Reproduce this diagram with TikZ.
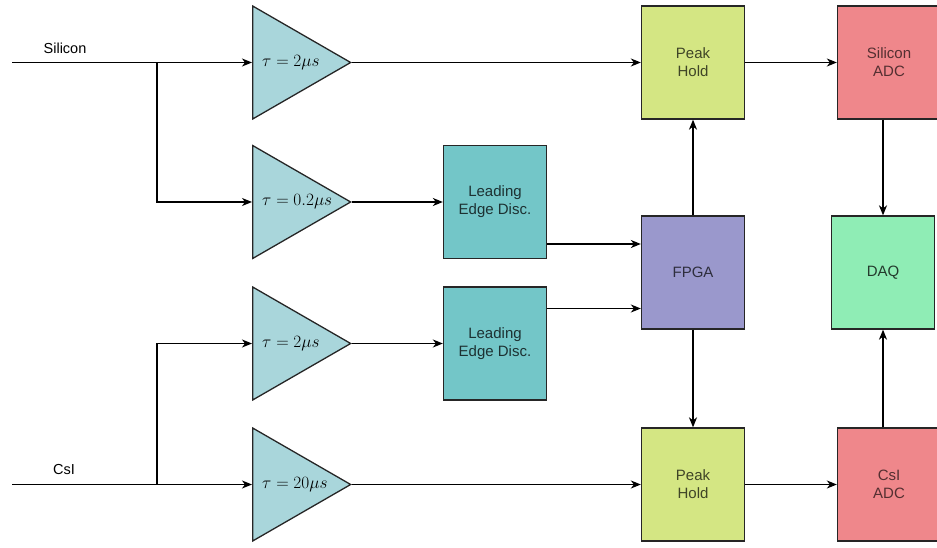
\documentclass[tikz,border=0pt]{standalone}
\usepackage{fontspec}
\setsansfont{Liberation Sans}
\usetikzlibrary{shapes.geometric,arrows.meta}
\definecolor{ampc}{HTML}{A9D6DB}
\definecolor{ledc}{HTML}{73C6C8}
\definecolor{phc}{HTML}{D4E683}
\definecolor{adcc}{HTML}{EF878B}
\definecolor{fpgac}{HTML}{9A98CC}
\definecolor{daqc}{HTML}{8FEDB5}
\tikzset{
  blk/.style={draw=black!85, line width=1.3pt, minimum width=103pt, minimum height=113pt,
    align=center, inner sep=0pt, font=\sffamily\fontsize{15}{18}\selectfont},
  ledbox/.style={blk, fill=ledc, text=ledc!25!black},
  phbox/.style={blk, fill=phc, text=phc!30!black},
  adcbox/.style={blk, fill=adcc, text=adcc!35!black},
  fpgabox/.style={blk, fill=fpgac, text=fpgac!30!black},
  daqbox/.style={blk, fill=daqc, text=daqc!25!black},
  amp/.style={isosceles triangle, isosceles triangle stretches, draw=black!85, line width=1.3pt,
    fill=ampc, minimum width=113pt, minimum height=98pt, inner sep=0pt, anchor=lower side},
  mlab/.style={anchor=west, inner sep=0pt, font=\fontsize{16}{18}\selectfont},
  inlab/.style={inner sep=0pt, font=\sffamily\fontsize{14.5}{18}\selectfont},
  wire/.style={line width=1.3pt, black},
  arr/.style={wire, -{Stealth[length=10pt,width=8pt,inset=3pt]}}
}
\begin{document}
\begin{tikzpicture}[x=1pt,y=-1pt]
\useasboundingbox (0,0) rectangle (937,548);
\clip (0,0) rectangle (937,548);
% amplifiers
\node[amp] (a1) at (252,62.5) {};
\node[amp] (a2) at (252,202) {};
\node[amp] (a3) at (252,343.5) {};
\node[amp] (a4) at (252,484.5) {};
\node[mlab] (t1) at ([xshift=10pt]a1.lower side) {$\tau = 2\mu s$};
\node[mlab] (t2) at ([xshift=10pt]a2.lower side) {$\tau = 0.2\mu s$};
\node[mlab] (t3) at ([xshift=10pt]a3.lower side) {$\tau = 2\mu s$};
\node[mlab] (t4) at ([xshift=10pt]a4.lower side) {$\tau = 20\mu s$};
% blocks
\node[ledbox] (led1) at (495,202) {Leading\\Edge Disc.};
\node[ledbox] (led2) at (495,343.5) {Leading\\Edge Disc.};
\node[phbox] (ph1) at (693,62.5) {Peak\\Hold};
\node[phbox] (ph2) at (693,484.5) {Peak\\Hold};
\node[fpgabox] (fpga) at (693,272.5) {FPGA};
\node[adcbox] (sadc) at (889,62.5) {Silicon\\ADC};
\node[adcbox] (cadc) at (889,484.5) {CsI\\ADC};
\node[daqbox] (daq) at (883,272.5) {DAQ};
% input labels
\node[inlab] (silab) at (65,48) {Silicon};
\node[inlab] (csilab) at (64,470) {CsI};
\coordinate (sin) at (12,62.5);
\coordinate (sbr) at (157,62.5);
\coordinate (cin) at (12,484.5);
\coordinate (cbr) at (157,484.5);
% connectors
\draw[arr] (sin) -- (a1.lower side);
\draw[arr] (sbr) |- (a2.lower side);
\draw[arr] (cin) -- (a4.lower side);
\draw[arr] (cbr) |- (a3.lower side);
\draw[arr] (a1.apex) -- (ph1);
\draw[arr] (ph1) -- (sadc);
\draw[arr] (a2.apex) -- (led1);
\draw[arr] (a3.apex) -- (led2);
\coordinate (l1o) at ([yshift=-42pt]led1.east);
\draw[arr] (l1o) -- (l1o -| fpga.west);
\coordinate (l2o) at ([yshift=35pt]led2.east);
\draw[arr] (l2o) -- (l2o -| fpga.west);
\draw[arr] (fpga) -- (ph1);
\draw[arr] (fpga) -- (ph2);
\draw[arr] (a4.apex) -- (ph2);
\draw[arr] (ph2) -- (cadc);
\draw[arr] (sadc.south -| daq.north) -- (daq.north);
\draw[arr] (cadc.north -| daq.south) -- (daq.south);
\end{tikzpicture}
\end{document}
